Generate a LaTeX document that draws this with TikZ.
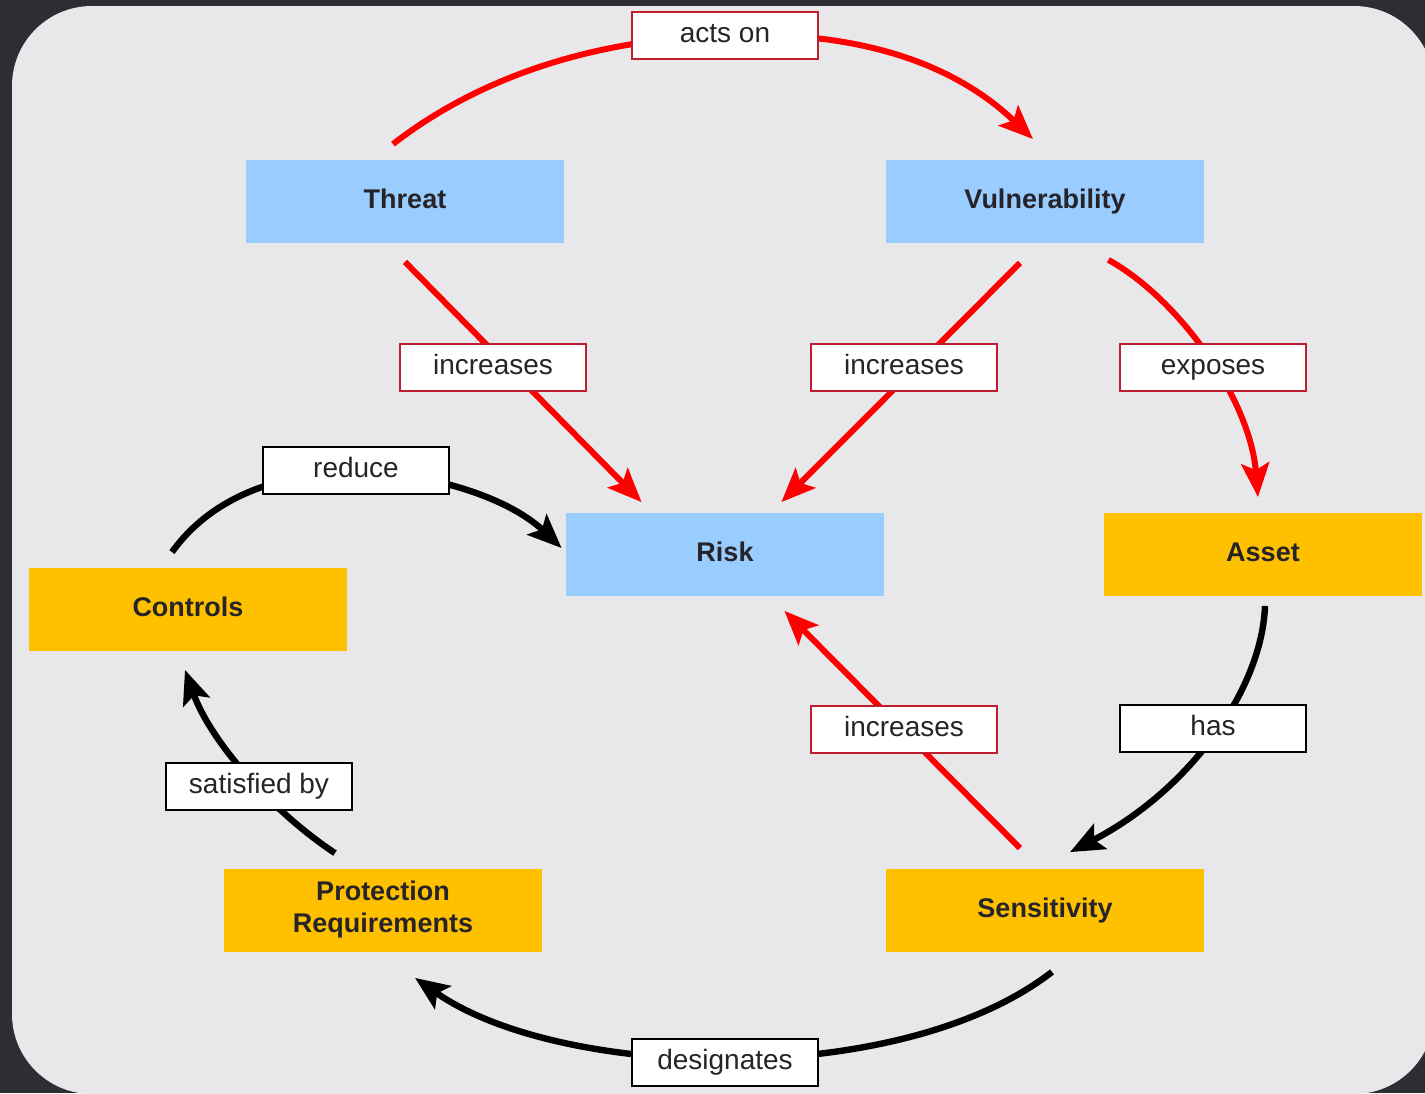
\documentclass[tikz,border=0pt]{standalone}
\usepackage{fontspec}
\setmainfont{Liberation Sans}
\usetikzlibrary{arrows.meta}
\definecolor{blue4}{RGB}{153,204,255}
\definecolor{orange4}{RGB}{255,192,0}
\definecolor{red4}{RGB}{190,30,45}
\definecolor{paper4}{RGB}{232,232,235}
\definecolor{frame4}{RGB}{44,46,51}
\definecolor{ink4}{RGB}{38,36,40}
\pgfdeclarelayer{frame}
\pgfdeclarelayer{links}
\pgfsetlayers{frame,links,main}

\begin{document}
\begin{tikzpicture}[x=0.5pt, y=-0.5pt,
				conceptnode/.style=	{rectangle, minimum width=159pt, minimum height=41.5pt, inner sep=2pt, align=center, text height=1.4ex, text depth=0pt, text=ink4, font=\bfseries\fontsize{13.5}{16}\selectfont},
				bluenode/.style=	{conceptnode, fill=blue4},
				orangenode/.style=	{conceptnode, fill=orange4},
				verbnode/.style=	{rectangle, fill=white, line width=1pt, minimum width=93pt, minimum height=23.5pt, inner sep=1pt, text height=1.4ex, text depth=0pt, text=ink4, font=\fontsize{14}{16}\selectfont},
				redverb/.style=		{verbnode, draw=red4},
				blackverb/.style=	{verbnode, draw=black},
				redlink/.style=		{arrows={-Stealth[length=17pt, width=14pt, inset=3.5pt]}, draw=red, line width=3pt},
				blacklink/.style=	{arrows={-Stealth[length=17pt, width=14pt, inset=3.5pt]}, draw=black, line width=3.2pt}]
	\useasboundingbox (0,0) rectangle (1425,1093);
	\begin{pgfonlayer}{frame}
		\fill[frame4] (0,0) rectangle (1425,1093);
		\fill[paper4, rounded corners=40pt] (12,6) rectangle (1434,1094);
	\end{pgfonlayer}

	% concepts
	\node[bluenode] (threat) at (405,201) {Threat};
	\node[bluenode] (vuln) at (1045,201) {Vulnerability};
	\node[bluenode] (risk) at (725,554) {Risk};
	\node[orangenode] (asset) at (1263,554) {Asset};
	\node[orangenode] (controls) at (188,609) {Controls};
	\node[orangenode, text height=, text depth=] (protect) at (383,910) {Protection\\Requirements};
	\node[orangenode] (sens) at (1045,910) {Sensitivity};

	% relations
	\node[redverb] (actson) at (725,35) {acts on};
	\node[redverb] (incthreat) at (493,367) {increases};
	\node[redverb] (incvuln) at (904,367) {increases};
	\node[redverb] (exposes) at (1213,367) {exposes};
	\node[redverb] (incsens) at (904,729) {increases};
	\node[blackverb] (reduce) at (356,470) {reduce};
	\node[blackverb] (has) at (1213,728) {has};
	\node[blackverb] (satisfied) at (259,786) {satisfied by};
	\node[blackverb] (designates) at (725,1062) {designates};

	\begin{pgfonlayer}{links}
		\draw[redlink] ([shift={(-12,-15)}]threat.north) .. controls +(77,-60) and +(-145,5) .. (actson.center)
			.. controls +(145,-5) and +(-73,-70) .. ([shift={(-12,-20)}]vuln.north);
		\draw[redlink] ([shift={(0,19)}]threat.south) -- ([shift={(76,-10)}]risk.north west);
		\draw[redlink] ([shift={(-25,20)}]vuln.south) -- ([shift={(-103,-10)}]risk.north east);
		\draw[redlink] ([shift={(-96,17)}]vuln.south east) .. controls +(72,40) and +(-8,-97) .. ([shift={(-5,-15)}]asset.north);
		\draw[redlink] ([shift={(-25,-20)}]sens.north) -- ([shift={(-100,15)}]risk.south east);
		\draw[blacklink] ([shift={(2,10)}]asset.south) .. controls +(-3,83) and +(120,-62) .. ([shift={(25,-16)}]sens.north);
		\draw[blacklink] ([shift={(7,20)}]sens.south) .. controls +(-152,118) and +(145,102) .. ([shift={(32,26)}]protect.south);
		\draw[blacklink] ([shift={(-48,-15)}]protect.north) .. controls +(-65,-43) and +(25,70) .. ([shift={(-3,19)}]controls.south);
		\draw[blacklink] ([shift={(-16,-15)}]controls.north) .. controls +(88,-123) and +(-82,-78) .. ([shift={(-4,-6)}]risk.west);
	\end{pgfonlayer}
\end{tikzpicture}
\end{document}
